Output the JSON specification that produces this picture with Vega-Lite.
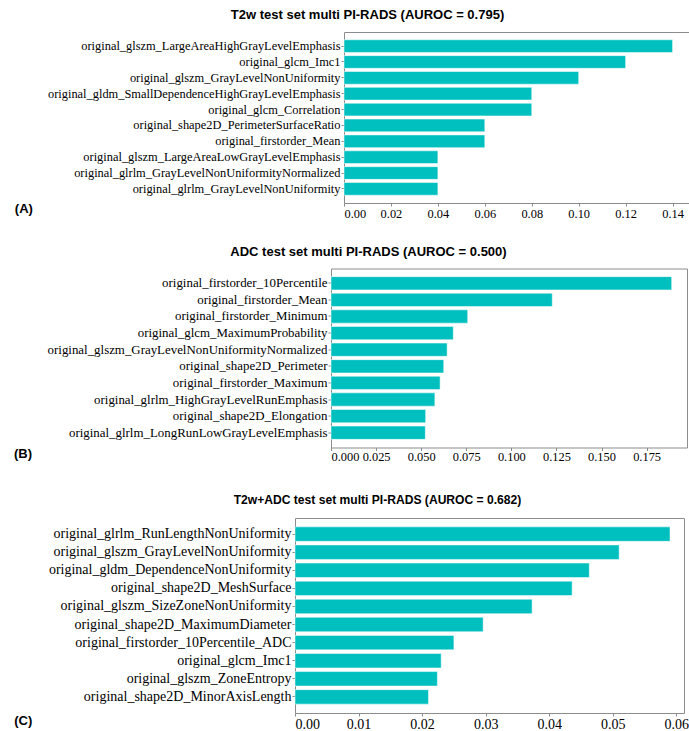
{
  "$schema": "https://vega.github.io/schema/vega-lite/v6.json",
  "background": "white",
  "padding": {"left": 12, "top": 8, "right": 0, "bottom": 0},
  "config": {
    "view": {"stroke": "#8c8c8c", "strokeWidth": 1},
    "axis": {
      "domain": false,
      "grid": false,
      "tickColor": "#8c8c8c",
      "tickSize": 3,
      "labelFont": "Liberation Serif",
      "labelColor": "#000000",
      "labelLimit": 0,
      "titleFont": "Liberation Sans",
      "titleFontWeight": "bold",
      "titleFontSize": 13,
      "titleColor": "#000000"
    },
    "title": {"font": "Liberation Sans", "fontWeight": "bold", "fontSize": 13, "color": "#000000", "anchor": "middle", "frame": "group"}
  },
  "datasets": {
    "t2w": [
      {"feature": "original_glszm_LargeAreaHighGrayLevelEmphasis", "importance": 0.14},
      {"feature": "original_glcm_Imc1", "importance": 0.12},
      {"feature": "original_glszm_GrayLevelNonUniformity", "importance": 0.10},
      {"feature": "original_gldm_SmallDependenceHighGrayLevelEmphasis", "importance": 0.08},
      {"feature": "original_glcm_Correlation", "importance": 0.08},
      {"feature": "original_shape2D_PerimeterSurfaceRatio", "importance": 0.06},
      {"feature": "original_firstorder_Mean", "importance": 0.06},
      {"feature": "original_glszm_LargeAreaLowGrayLevelEmphasis", "importance": 0.04},
      {"feature": "original_glrlm_GrayLevelNonUniformityNormalized", "importance": 0.04},
      {"feature": "original_glrlm_GrayLevelNonUniformity", "importance": 0.04}
    ],
    "adc": [
      {"feature": "original_firstorder_10Percentile", "importance": 0.1889},
      {"feature": "original_firstorder_Mean", "importance": 0.1227},
      {"feature": "original_firstorder_Minimum", "importance": 0.0758},
      {"feature": "original_glcm_MaximumProbability", "importance": 0.0678},
      {"feature": "original_glszm_GrayLevelNonUniformityNormalized", "importance": 0.0644},
      {"feature": "original_shape2D_Perimeter", "importance": 0.0625},
      {"feature": "original_firstorder_Maximum", "importance": 0.0605},
      {"feature": "original_glrlm_HighGrayLevelRunEmphasis", "importance": 0.0576},
      {"feature": "original_shape2D_Elongation", "importance": 0.0525},
      {"feature": "original_glrlm_LongRunLowGrayLevelEmphasis", "importance": 0.0523}
    ],
    "combined": [
      {"feature": "original_glrlm_RunLengthNonUniformity", "importance": 0.0590},
      {"feature": "original_glszm_GrayLevelNonUniformity", "importance": 0.0510},
      {"feature": "original_gldm_DependenceNonUniformity", "importance": 0.0463},
      {"feature": "original_shape2D_MeshSurface", "importance": 0.0436},
      {"feature": "original_glszm_SizeZoneNonUniformity", "importance": 0.0373},
      {"feature": "original_shape2D_MaximumDiameter", "importance": 0.0296},
      {"feature": "original_firstorder_10Percentile_ADC", "importance": 0.0250},
      {"feature": "original_glcm_Imc1", "importance": 0.0230},
      {"feature": "original_glszm_ZoneEntropy", "importance": 0.0224},
      {"feature": "original_shape2D_MinorAxisLength", "importance": 0.0210}
    ]
  },
  "spacing": 23.5,
  "vconcat": [
    {
      "spacing": 0,
      "hconcat": [
        {"width": 1, "height": 1, "data": {"values": []}, "mark": "point", "view": {"stroke": null}},
        {
          "width": 345,
          "height": 171,
          "title": {"text": "T2w test set multi PI-RADS (AUROC = 0.795)", "dx": -149, "offset": 10},
          "data": {"name": "t2w"},
          "mark": {"type": "bar", "color": "#00bfbf", "stroke": "#ffffff", "strokeWidth": 1, "strokeOpacity": 0.5},
          "encoding": {
            "y": {"field": "feature", "type": "nominal", "sort": null,
                  "scale": {"paddingInner": 0.2, "paddingOuter": 0.49},
                  "axis": {"title": null, "labelFontSize": 12.4, "labelPadding": 1}},
            "x": {"field": "importance", "type": "quantitative",
                  "scale": {"domain": [0, 0.147], "nice": false},
                  "axis": {"values": [0, 0.02, 0.04, 0.06, 0.08, 0.10, 0.12, 0.14], "format": ".2f",
                           "labelFontSize": 12.4, "labelPadding": 1.5,
                           "title": "(A)", "titleX": -329.7, "titleY": 5, "titleAlign": "left", "titleBaseline": "middle"}}
          }
        }
      ]
    },
    {
      "spacing": 29.5,
      "vconcat": [
        {
          "spacing": 0,
          "hconcat": [
            {"width": 1, "height": 1, "data": {"values": []}, "mark": "point", "view": {"stroke": null}},
            {
              "width": 356,
              "height": 179,
              "title": {"text": "ADC test set multi PI-RADS (AUROC = 0.500)", "dx": -140.5, "offset": 10},
              "data": {"name": "adc"},
              "mark": {"type": "bar", "color": "#00bfbf", "stroke": "#ffffff", "strokeWidth": 1, "strokeOpacity": 0.5},
              "encoding": {
                "y": {"field": "feature", "type": "nominal", "sort": null,
                      "scale": {"paddingInner": 0.2, "paddingOuter": 0.49},
                      "axis": {"title": null, "labelFontSize": 12.9, "labelPadding": 1}},
                "x": {"field": "importance", "type": "quantitative",
                      "scale": {"domain": [0, 0.1974], "nice": false},
                      "axis": {"values": [0, 0.025, 0.05, 0.075, 0.1, 0.125, 0.15, 0.175], "format": ".3f",
                               "labelFontSize": 12.4, "labelPadding": -0.5,
                               "title": "(B)", "titleX": -317.5, "titleY": 5.5, "titleAlign": "left", "titleBaseline": "middle"}}
              }
            }
          ]
        },
        {
          "spacing": 0,
          "hconcat": [
            {"width": 1, "height": 1, "data": {"values": []}, "mark": "point", "view": {"stroke": null}},
            {
              "width": 389,
              "height": 195,
              "title": {"text": "T2w+ADC test set multi PI-RADS (AUROC = 0.682)", "dx": -112, "offset": 12, "fontSize": 12.1},
              "data": {"name": "combined"},
              "mark": {"type": "bar", "color": "#00bfbf", "stroke": "#ffffff", "strokeWidth": 1, "strokeOpacity": 0.5},
              "encoding": {
                "y": {"field": "feature", "type": "nominal", "sort": null,
                      "scale": {"paddingInner": 0.2, "paddingOuter": 0.49},
                      "axis": {"title": null, "labelFontSize": 14, "labelPadding": 1}},
                "x": {"field": "importance", "type": "quantitative",
                      "scale": {"domain": [0, 0.0612], "nice": false},
                      "axis": {"values": [0, 0.01, 0.02, 0.03, 0.04, 0.05, 0.06], "format": ".2f",
                               "labelFontSize": 14, "labelPadding": 1.6,
                               "title": "(C)", "titleX": -281.3, "titleY": 7, "titleAlign": "left", "titleBaseline": "middle"}}
              }
            }
          ]
        }
      ]
    }
  ]
}
